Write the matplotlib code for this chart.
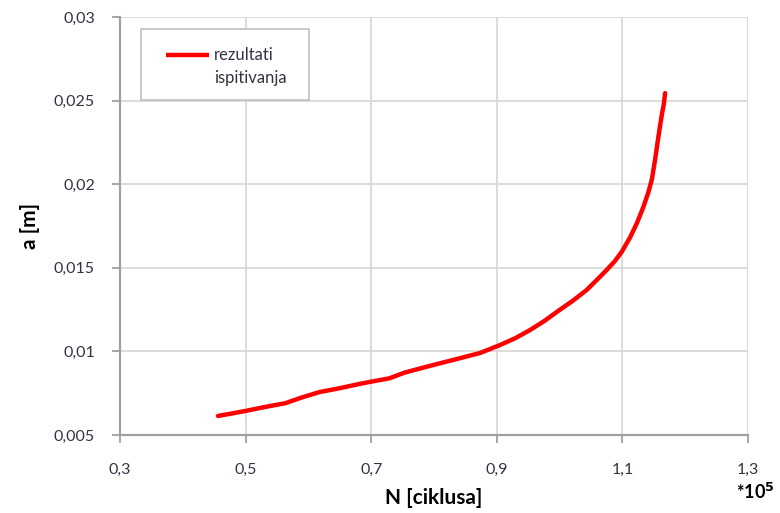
import matplotlib
matplotlib.use("Agg")
import matplotlib.pyplot as plt
from matplotlib.ticker import FuncFormatter
from matplotlib.patches import Rectangle
from matplotlib.lines import Line2D

plt.rcParams['font.family'] = ['Lato', 'DejaVu Sans']

# data (N in units of 1e5 cycles, a in m)
N_cycles = [0.456, 0.48, 0.50, 0.53, 0.563, 0.59, 0.618, 0.65, 0.682, 0.70,
            0.729, 0.753, 0.793, 0.841, 0.873, 0.905, 0.93, 0.953, 0.975, 1.0,
            1.02, 1.043, 1.06, 1.075, 1.088, 1.099, 1.112, 1.123, 1.133, 1.141,
            1.147, 1.152, 1.156, 1.160, 1.163, 1.166, 1.168]
a_m = [0.00614, 0.0063, 0.00644, 0.00667, 0.0069, 0.00725, 0.00757, 0.0078,
       0.00806, 0.00819, 0.00839, 0.00873, 0.00913, 0.00959, 0.0099, 0.01038,
       0.0108, 0.01128, 0.0118, 0.01248, 0.0130, 0.01367, 0.0143, 0.01487,
       0.0154, 0.01596, 0.0168, 0.01766, 0.0186, 0.01947, 0.0203, 0.02145,
       0.0225, 0.0235, 0.0242, 0.0248, 0.02545]

x_ticks = [0.3, 0.5, 0.7, 0.9, 1.1, 1.3]
y_ticks = [0.005, 0.01, 0.015, 0.02, 0.025, 0.03]
series_label = "rezultati\nispitivanja"
x_label = "N [ciklusa]"
y_label = "a [m]"

RED = '#ff0000'
TXT = '#333344'

fig = plt.figure(figsize=(7.8, 5.13), dpi=100)
ax = fig.add_axes([120/780, 1-435/513, (748-120)/780, (435-17)/513])

ax.plot(N_cycles, a_m, color=RED, lw=3.2, solid_capstyle='round',
        solid_joinstyle='round', zorder=3)

ax.set_xlim(0.3, 1.3)
ax.set_ylim(0.005, 0.03)
ax.set_xticks(x_ticks)
ax.set_yticks(y_ticks)

def fmt(v, pos):
    s = f"{v:.3f}".rstrip('0').rstrip('.')
    return s.replace('.', ',')
ax.xaxis.set_major_formatter(FuncFormatter(fmt))
ax.yaxis.set_major_formatter(FuncFormatter(fmt))

ax.grid(True, color='#d9d9d9', lw=1.3, zorder=0)
ax.set_axisbelow(True)
for s in ['top', 'right']:
    ax.spines[s].set_visible(False)
for s in ['left', 'bottom']:
    ax.spines[s].set_color('#a0a0a0')
    ax.spines[s].set_linewidth(1.6)
ax.tick_params(axis='both', direction='out', length=6, width=1.3, color='#a0a0a0',
               labelsize=11.5, labelcolor=TXT)
ax.tick_params(axis='x', pad=14)
ax.tick_params(axis='y', pad=12)

ax.set_xlabel(x_label, fontsize=15, fontweight='bold', labelpad=8)
ax.set_ylabel(y_label, fontsize=15, fontweight='bold', labelpad=10)

fig.text(755/780, 1-492/513, r"*10$^{\mathbf{5}}$", fontsize=13, fontweight='bold',
         ha='center', va='center')

# legend drawn in axes coordinates
tr = ax.transAxes
ax.add_patch(Rectangle((0.0334, 0.8014), 0.301-0.0334, 0.9713-0.8014, transform=tr,
                       facecolor='white', edgecolor='#c0c0c0', lw=1.2, zorder=5))
ax.add_line(Line2D([0.0732, 0.1417], [0.9091, 0.9091], transform=tr, color=RED,
                   lw=3.2, solid_capstyle='butt', zorder=6))
lines = series_label.split('\n')
ax.text(0.150, 0.9091, lines[0], transform=tr, fontsize=12, color=TXT,
        ha='left', va='center', zorder=6)
ax.text(0.150, 0.8541, lines[1], transform=tr, fontsize=12, color=TXT,
        ha='left', va='center', zorder=6)

fig.savefig('out.png', dpi=100)
